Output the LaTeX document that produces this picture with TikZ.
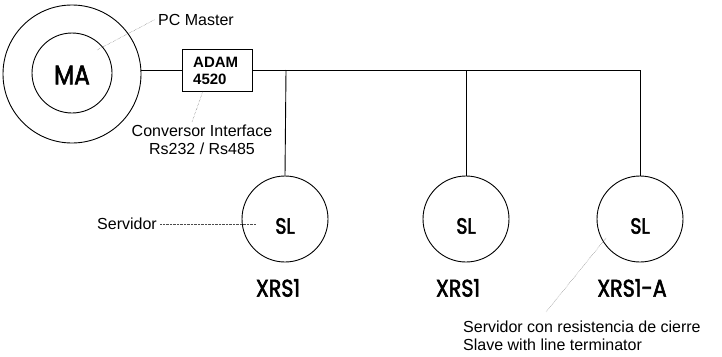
\documentclass[tikz,border=0pt]{standalone}
\usepackage{fontspec}
\setmainfont{Liberation Sans}
\newfontfamily\geo{Poppins}[FakeBold=2.6]
\newcommand{\geotext}[1]{\scalebox{0.86}[1]{#1}}
\begin{document}
\begin{tikzpicture}[x=1pt,y=-1pt,
  wire/.style={line width=0.9pt},
  ring/.style={draw,circle,line width=0.9pt,inner sep=0pt},
  leader/.style={line width=0.4pt,densely dotted,black!70},
  lbl/.style={font=\fontsize{16}{17.5}\selectfont,inner sep=0pt},
  big/.style={font=\geo\fontsize{22}{24}\selectfont,inner sep=0pt},
  tag/.style={font=\geo\fontsize{24}{26}\selectfont,inner sep=0pt}]
\useasboundingbox (0,0) rectangle (722,356);
% master
\node[ring,minimum size=138pt] (mao) at (72,74) {};
\node[ring,minimum size=80pt] (mai) at (72,73) {};
\node[font=\geo\fontsize{27}{29}\selectfont,inner sep=0pt] (ma) at (72,75) {\geotext{MA}};
% converter
\node[draw,line width=0.6pt,minimum width=70pt,minimum height=42pt,inner sep=0pt] (adam) at (217,70) {};
\node[font=\bfseries\fontsize{15}{16.5}\selectfont,align=left,inner sep=0pt,anchor=west] (adamt) at (193,71) {ADAM\\4520};
% slaves
\node[ring,minimum size=86pt] (s1) at (285,219) {};
\node[ring,minimum size=86pt] (s2) at (466,219) {};
\node[ring,minimum size=86pt] (s3) at (640,219) {};
\node[big] (s1t) at (285,226) {\geotext{SL}};
\node[big] (s2t) at (466,226) {\geotext{SL}};
\node[big] (s3t) at (640,226) {\geotext{SL}};
\node[tag] (x1) at (278,288) {\geotext{XRS1}};
\node[tag] (x2) at (458,288) {\geotext{XRS1}};
\node[tag] (x3) at (632,288) {\geotext{XRS1-A}};
% bus
\coordinate (b0) at (141,70);
\coordinate (j1) at (286,70);
\coordinate (j2) at (466,70);
\coordinate (j3) at (640,70);
\draw[wire] (b0) -- (adam.west |- b0);
\draw[wire] (adam.east |- j1) -- (j3);
\draw[wire] (j1) -- (s1.north);
\draw[wire] (j2) -- (s2.north);
\draw[wire] (j3) -- (s3.north);
% labels
\node[lbl,anchor=base west] (pcm) at (158,25) {PC Master};
\coordinate (pcl) at (97,50);
\draw[leader] (pcl) -- ([xshift=-3pt]pcm.west);
\node[lbl,align=center,anchor=north] (conv) at (202,125) {Conversor Interface\\Rs232 / Rs485};
\draw[leader] (203,91) -- (192,122);
\node[lbl,anchor=east] (serv) at (157,224) {Servidor};
\coordinate (servend) at (256,224);
\draw[leader] ([xshift=3pt]serv.east) -- (servend);
\node[lbl,align=left,anchor=north west] (term) at (463,321) {Servidor con resistencia de cierre\\Slave with line terminator};
\coordinate (termst) at (606,238);
\draw[leader] (termst) -- (546,312);
\end{tikzpicture}
\end{document}
